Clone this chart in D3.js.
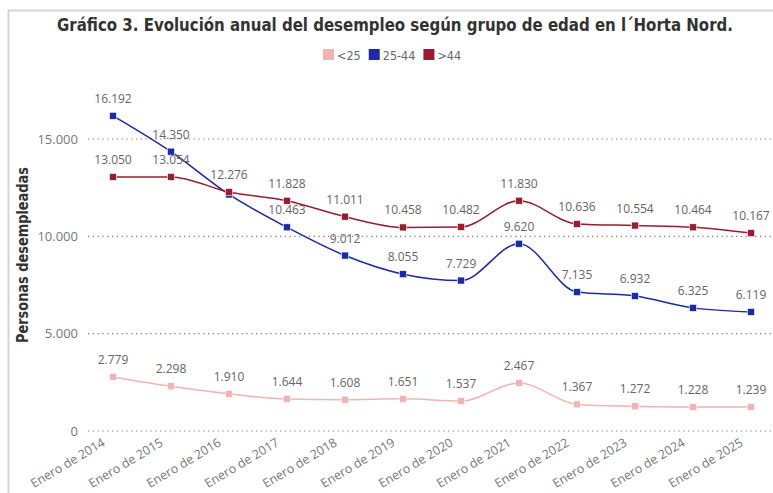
<!DOCTYPE html>
<html>
<head>
<meta charset="utf-8">
<script src="https://cdn.jsdelivr.net/npm/d3@7"></script>
<style>
  body { margin: 0; background: #fff; }
  svg { display: block; }
</style>
</head>
<body>
<script>
var years = ['2014', '2015', '2016', '2017', '2018', '2019', '2020', '2021', '2022', '2023', '2024', '2025'];
var categories = years.map(function(y) { return 'Enero de ' + y; });
var menores25 = [2779, 2298, 1910, 1644, 1608, 1651, 1537, 2467, 1367, 1272, 1228, 1239];
var de25a44 = [16192, 14350, 12150, 10463, 9012, 8055, 7729, 9620, 7135, 6932, 6325, 6119];
var mayores44 = [13050, 13054, 12276, 11828, 11011, 10458, 10482, 11830, 10636, 10554, 10464, 10167];
var yTicks = [0, 5000, 10000, 15000];
// Power BI hid the 25-44 label in 2016 (overlaps the >44 one)
var hiddenLabels = { '25-44': [2] };

var series = [
  { name: '<25', values: menores25, color: '#F2B3B3' },
  { name: '25-44', values: de25a44, color: '#1A2AA8' },
  { name: '>44', values: mayores44, color: '#9B1B30' }
];

var width = 773, height = 493;
var es = d3.formatLocale({ decimal: ',', thousands: '.', grouping: [3], currency: ['', ' €'] });
var fmt = es.format(',d');
var condensed = '"Liberation Sans Narrow", "DejaVu Sans Condensed", sans-serif';

var svg = d3.select('body').append('svg')
  .attr('width', width)
  .attr('height', height);

// card frame
svg.append('path')
  .attr('d', 'M8.5 ' + height + 'V10.5H' + width)
  .attr('fill', 'none')
  .attr('stroke', '#d4d4d4')
  .attr('stroke-width', 2);

svg.append('text')
  .attr('x', 57)
  .attr('y', 31)
  .attr('textLength', 676)
  .attr('lengthAdjust', 'spacingAndGlyphs')
  .style('font-family', condensed)
  .style('font-weight', 'bold')
  .style('font-size', '18px')
  .style('fill', '#333')
  .text('Gráfico 3. Evolución anual del desempleo según grupo de edad en l´Horta Nord.');

// legend
var legend = svg.append('g')
  .style('font-family', condensed)
  .style('font-size', '12.5px');
var lx = 323;
series.forEach(function(s) {
  legend.append('rect')
    .attr('x', lx).attr('y', 49).attr('width', 11).attr('height', 11)
    .attr('fill', s.color);
  var t = legend.append('text')
    .attr('x', lx + 14).attr('y', 59.5)
    .style('fill', '#666')
    .text(s.name);
  lx += 14 + t.node().getComputedTextLength() + 8;
});

var x = d3.scalePoint()
  .domain(categories)
  .range([113, 751]);

var y = d3.scaleLinear()
  .domain([0, 15000])
  .range([431, 139]);

var chart = svg.append('g');

// grid
chart.selectAll('line.grid')
  .data(yTicks)
  .enter()
  .append('line')
  .attr('class', 'grid')
  .attr('x1', 88)
  .attr('x2', width)
  .attr('y1', function(d) { return y(d); })
  .attr('y2', function(d) { return y(d); })
  .attr('stroke', '#777')
  .attr('stroke-width', 1.2)
  .attr('stroke-dasharray', '1.2,3.6');

chart.selectAll('text.ytick')
  .data(yTicks)
  .enter()
  .append('text')
  .attr('class', 'ytick')
  .attr('x', 78)
  .attr('y', function(d) { return y(d) + 4.5; })
  .attr('text-anchor', 'end')
  .style('font-family', '"Open Sans", sans-serif')
  .style('font-size', '13px')
  .style('fill', '#777')
  .text(function(d) { return fmt(d); });

chart.selectAll('text.xtick')
  .data(categories)
  .enter()
  .append('text')
  .attr('class', 'xtick')
  .attr('transform', function(d) { return 'translate(' + (x(d) - 7) + ',445) rotate(-31)'; })
  .attr('text-anchor', 'end')
  .style('font-family', '"Open Sans", sans-serif')
  .style('font-size', '12.5px')
  .style('fill', '#777')
  .text(function(d) { return d; });

svg.append('text')
  .attr('transform', 'translate(28,255) rotate(-90)')
  .attr('text-anchor', 'middle')
  .attr('textLength', 176)
  .attr('lengthAdjust', 'spacingAndGlyphs')
  .style('font-family', condensed)
  .style('font-weight', 'bold')
  .style('font-size', '15px')
  .style('fill', '#333')
  .text('Personas desempleadas');

var line = d3.line()
  .x(function(d, i) { return x(categories[i]); })
  .y(function(d) { return y(d); })
  .curve(d3.curveMonotoneX);

var groups = chart.selectAll('g.series')
  .data(series)
  .enter()
  .append('g')
  .attr('class', 'series');

groups.append('path')
  .attr('d', function(s) { return line(s.values); })
  .attr('fill', 'none')
  .attr('stroke', function(s) { return s.color; })
  .attr('stroke-width', 1.5);

groups.selectAll('rect')
  .data(function(s) { return s.values.map(function(v, i) { return { v: v, i: i, s: s }; }); })
  .enter()
  .append('rect')
  .attr('x', function(d) { return x(categories[d.i]) - 3.5; })
  .attr('y', function(d) { return y(d.v) - 3.5; })
  .attr('width', 7)
  .attr('height', 7)
  .attr('fill', function(d) { return d.s.color; })
  .attr('stroke', '#fff')
  .attr('stroke-width', 0.6);

groups.selectAll('text')
  .data(function(s) {
    var hide = hiddenLabels[s.name] || [];
    return s.values.map(function(v, i) { return { v: v, i: i }; })
      .filter(function(d) { return hide.indexOf(d.i) < 0; });
  })
  .enter()
  .append('text')
  .attr('x', function(d) { return x(categories[d.i]); })
  .attr('y', function(d) { return y(d.v) - 13; })
  .attr('text-anchor', 'middle')
  .style('font-family', '"Open Sans", sans-serif')
  .style('font-size', '12px')
  .style('fill', '#666')
  .text(function(d) { return fmt(d.v); });
</script>
</body>
</html>
